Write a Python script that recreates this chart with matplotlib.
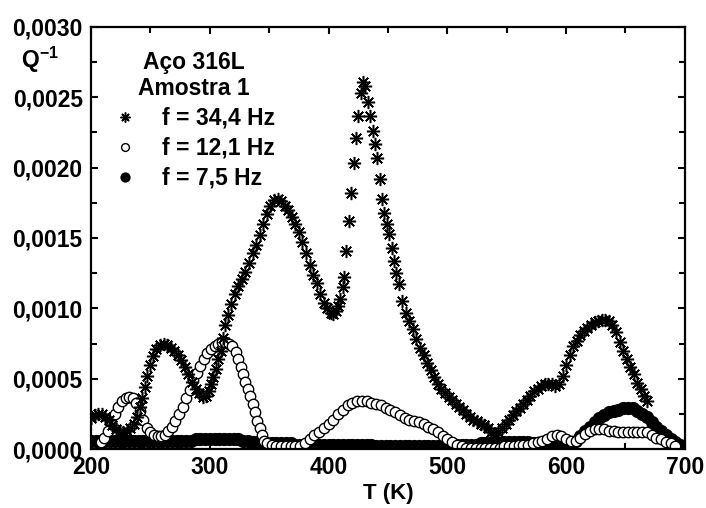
import numpy as np
import matplotlib
matplotlib.use('Agg')
import matplotlib.pyplot as plt
from matplotlib.ticker import MultipleLocator, FuncFormatter

plt.rcParams['font.family'] = ['Liberation Sans', 'DejaVu Sans']
plt.rcParams['font.weight'] = 'bold'
plt.rcParams['mathtext.fontset'] = 'custom'
plt.rcParams['mathtext.bf'] = 'Liberation Sans:bold'
plt.rcParams['mathtext.rm'] = 'Liberation Sans:bold'

# f = 34,4 Hz (asterisks)
t1 = [200, 203, 206, 209, 212, 215, 218, 221, 224, 227, 230, 233, 236, 239, 241, 243, 245, 247,
      249.5, 252, 255, 258, 261, 264, 267, 270, 273, 276, 279, 282, 285, 288, 291, 294, 297, 299,
      301, 303, 305, 307, 309, 311, 313, 315, 318, 321, 324, 327, 330, 333, 336, 339, 342, 345,
      348, 351, 354, 357, 360, 363, 366, 369, 372, 375, 378, 381, 384, 387, 390, 393, 396, 399,
      402, 404, 406, 408, 410, 412, 413, 414.5, 417, 419, 421, 423, 425, 427, 429, 431, 433, 435,
      437, 439, 441, 443, 445, 447, 449, 451, 453, 455, 457, 459, 462, 465, 468, 471, 474, 477,
      480, 483, 486, 489, 492, 495, 498, 501, 504, 507, 510, 513, 516, 519, 522, 525, 528, 531,
      534, 537, 540, 543, 546, 549, 552, 555, 558, 561, 564, 567, 570, 573, 576, 579, 582, 585,
      588, 591, 594, 597, 600, 603, 606, 609, 612, 615, 618, 621, 624, 627, 630, 633, 636, 639,
      642, 645, 648, 651, 654, 657, 660, 663, 666, 668]
q1 = [0.00022, 0.00024, 0.00025, 0.00025, 0.00023, 0.00021, 0.00017, 0.00014, 0.00012, 0.00012,
      0.00013, 0.00015, 0.00018, 0.00023, 0.00030, 0.00036, 0.00044, 0.00052, 0.00060, 0.00066,
      0.00071, 0.00074, 0.00075, 0.00074, 0.00072, 0.00070, 0.00067, 0.00063, 0.00058, 0.00053,
      0.00048, 0.00043, 0.00040, 0.00037, 0.00038, 0.00041, 0.00046, 0.00051, 0.00057, 0.00064,
      0.00070, 0.00079, 0.00088, 0.00095, 0.00103, 0.00110, 0.00116, 0.00121, 0.00126, 0.00132,
      0.00139, 0.00145, 0.00152, 0.00160, 0.00167, 0.00173, 0.00177, 0.00178, 0.00176, 0.00173,
      0.00170, 0.00165, 0.00160, 0.00154, 0.00147, 0.00139, 0.00131, 0.00124, 0.00118, 0.00110,
      0.00104, 0.00100, 0.00097, 0.00096, 0.00098, 0.00102, 0.00107, 0.00115, 0.00122, 0.00141,
      0.00162, 0.00182, 0.00203, 0.00221, 0.00237, 0.00253, 0.00261, 0.00258, 0.00247, 0.00237,
      0.00226, 0.00217, 0.00207, 0.00192, 0.00178, 0.00168, 0.00160, 0.00153, 0.00143, 0.00134,
      0.00125, 0.00117, 0.00105, 0.00097, 0.00091, 0.00085, 0.00078, 0.00072, 0.00067, 0.00061,
      0.00056, 0.00051, 0.00046, 0.00043, 0.00040, 0.00037, 0.00035, 0.00032, 0.00030, 0.00028,
      0.00025, 0.00023, 0.00021, 0.00020, 0.00018, 0.00017, 0.00015, 0.00012, 0.00010, 0.00012,
      0.00015, 0.00018, 0.00021, 0.00024, 0.00027, 0.00029, 0.00032, 0.00035, 0.00038, 0.00041,
      0.00043, 0.00045, 0.00046, 0.00046, 0.00046, 0.00045, 0.00046, 0.00052, 0.00060, 0.00067,
      0.00073, 0.00077, 0.00081, 0.00084, 0.00086, 0.00088, 0.00090, 0.00091, 0.00092, 0.00092,
      0.00091, 0.00088, 0.00083, 0.00076, 0.00070, 0.00064, 0.00058, 0.00053, 0.00047, 0.00043,
      0.00038, 0.00034]

# f = 12,1 Hz (open circles)
t2 = [208, 211, 214, 217, 220, 223, 226, 229, 232, 235, 238, 241, 244, 247, 250, 253, 256, 259,
      262, 265, 268, 271, 274, 277, 280, 283, 286, 289, 292, 295, 298, 301, 304, 307, 310, 313,
      316, 319, 322, 324, 326, 328, 330, 332, 334, 336, 338, 340, 342, 344, 346, 348, 352, 356,
      360, 364, 368, 372, 376, 380, 384, 388, 392, 396, 400, 404, 408, 412, 416, 420, 424, 428,
      432, 436, 440, 444, 448, 452, 456, 460, 464, 468, 472, 476, 480, 484, 488, 492, 496, 500,
      504, 508, 512, 516, 520, 524, 528, 532, 536, 540, 544, 548, 552, 556, 560, 564, 568, 572,
      576, 580, 584, 588, 592, 596, 600, 604, 608, 612, 616, 620, 624, 628, 632, 636, 640, 644,
      648, 652, 656, 660, 664, 668, 672, 676, 680, 684, 688, 692]
q2 = [0.00005, 0.00008, 0.00013, 0.00019, 0.00025, 0.00030, 0.00034, 0.00036, 0.00037, 0.00036,
      0.00033, 0.00027, 0.00021, 0.00015, 0.00012, 0.00010, 0.00009, 0.00009, 0.00010, 0.00013,
      0.00016, 0.00020, 0.00025, 0.00030, 0.00036, 0.00042, 0.00049, 0.00054, 0.00059, 0.00064,
      0.00068, 0.00071, 0.00073, 0.00075, 0.00076, 0.00076, 0.00075, 0.00073, 0.00069, 0.00064,
      0.00058, 0.00053, 0.00048, 0.00043, 0.00038, 0.00032, 0.00026, 0.00020, 0.00015, 0.00010,
      0.00006, 0.00004, 0.00003, 0.00002, 0.00002, 0.00002, 0.00002, 0.00002, 0.00002, 0.00004,
      0.00007, 0.00010, 0.00012, 0.00015, 0.00018, 0.00021, 0.00025, 0.00028, 0.00031, 0.00033,
      0.00034, 0.00034, 0.00034, 0.00033, 0.00032, 0.00031, 0.00029, 0.00028, 0.00026, 0.00024,
      0.00022, 0.00021, 0.00020, 0.00019, 0.00018, 0.00016, 0.00014, 0.00012, 0.00009, 0.00007,
      0.00005, 0.00003, 0.00002, 0.00001, 0.00001, 0.00001, 0.00001, 0.00001, 0.00001, 0.00001,
      0.00001, 0.00002, 0.00002, 0.00002, 0.00003, 0.00003, 0.00003, 0.00004, 0.00005, 0.00006,
      0.00007, 0.00009, 0.00010, 0.00009, 0.00007, 0.00006, 0.00006, 0.00008, 0.00011, 0.00013,
      0.00014, 0.00014, 0.00014, 0.00013, 0.00013, 0.00012, 0.00012, 0.00012, 0.00012, 0.00012,
      0.00012, 0.00012, 0.00010, 0.00008, 0.00007, 0.00005, 0.00004, 0.00002]

# f = 7,5 Hz (filled circles)
t3 = [200, 204, 208, 212, 216, 220, 224, 228, 232, 236, 240, 244, 248, 252, 256, 260, 264, 268,
      272, 276, 280, 284, 288, 292, 296, 300, 304, 308, 312, 316, 320, 324, 328, 332, 336, 340,
      344, 348, 352, 356, 360, 364, 368, 372, 376, 380, 384, 388, 392, 396, 400, 404, 408, 412,
      416, 420, 424, 428, 432, 436, 440, 444, 448, 452, 456, 460, 464, 468, 472, 476, 480, 484,
      488, 492, 496, 500, 504, 508, 512, 516, 520, 524, 528, 532, 536, 540, 544, 548, 552, 556,
      560, 564, 568, 572, 576, 580, 584, 588, 592, 596, 600, 604, 608, 612, 616, 620, 624, 628,
      632, 636, 640, 644, 648, 652, 656, 660, 664, 668, 672, 676, 680, 684, 688, 692, 696, 700]
q3 = [0.00006, 0.00006, 0.00006, 0.00006, 0.00006, 0.00006, 0.00006, 0.00006, 0.00006, 0.00006,
      0.00006, 0.00006, 0.00006, 0.00006, 0.00006, 0.00006, 0.00006, 0.00006, 0.00006, 0.00006,
      0.00006, 0.00006, 0.00007, 0.00007, 0.00007, 0.00007, 0.00007, 0.00007, 0.00007, 0.00007,
      0.00007, 0.00007, 0.00006, 0.00006, 0.00005, 0.00005, 0.00004, 0.00004, 0.00004, 0.00004,
      0.00004, 0.00004, 0.00004, 0.00003, 0.00003, 0.00003, 0.00003, 0.00003, 0.00003, 0.00003,
      0.00003, 0.00003, 0.00003, 0.00003, 0.00003, 0.00003, 0.00003, 0.00003, 0.00003, 0.00003,
      0.00002, 0.00002, 0.00002, 0.00002, 0.00002, 0.00002, 0.00002, 0.00002, 0.00002, 0.00002,
      0.00002, 0.00002, 0.00002, 0.00002, 0.00003, 0.00003, 0.00003, 0.00003, 0.00003, 0.00003,
      0.00003, 0.00003, 0.00004, 0.00004, 0.00004, 0.00004, 0.00004, 0.00005, 0.00005, 0.00005,
      0.00005, 0.00005, 0.00005, 0.00004, 0.00004, 0.00004, 0.00004, 0.00004, 0.00004, 0.00004,
      0.00004, 0.00005, 0.00006, 0.00009, 0.00013, 0.00016, 0.00019, 0.00022, 0.00024, 0.00026,
      0.00027, 0.00028, 0.00029, 0.00029, 0.00029, 0.00027, 0.00025, 0.00023, 0.00019, 0.00016,
      0.00013, 0.00010, 0.00007, 0.00005, 0.00003, 0.00001]

labels = ['f = 34,4 Hz', 'f = 12,1 Hz', 'f = 7,5 Hz']

fig = plt.figure(figsize=(7.06, 5.08), dpi=100)
ax = fig.add_axes([0.129, 0.116, 0.841, 0.831])

ax.plot(t3, q3, 'o', color='black', ms=8.5, mec='black', zorder=1, label=labels[2])
ax.plot(t2, q2, 'o', mfc='white', mec='black', ms=7.5, mew=1.0, zorder=2, label=labels[1])
ax.plot(t1, q1, marker=(8, 2, 0), ls='none', color='black', ms=9.5, mew=1.1, zorder=3, label=labels[0])

ax.set_xlim(200, 700)
ax.set_ylim(0, 0.0030)
ax.xaxis.set_major_locator(MultipleLocator(100))
ax.xaxis.set_minor_locator(MultipleLocator(50))
ax.yaxis.set_major_locator(MultipleLocator(0.0005))
ax.yaxis.set_minor_locator(MultipleLocator(0.00025))
ax.yaxis.set_major_formatter(FuncFormatter(lambda v, p: ('%.4f' % v).replace('.', ',')))
ax.tick_params(which='both', direction='in', top=True, right=True, width=1.5, labelsize=16.5, pad=6)
ax.tick_params(axis='x', pad=5)
ax.tick_params(which='major', length=5)
ax.tick_params(which='minor', length=4)
for s in ax.spines.values():
    s.set_linewidth(1.6)

ax.set_xlabel('T (K)', fontsize=16, fontweight='bold', labelpad=3)
fig.text(0.030, 0.867, r'$\mathbf{Q^{-1}}$', fontsize=16.5)

h, l = ax.get_legend_handles_labels()
leg = ax.legend(h[::-1], l[::-1], loc='upper left', bbox_to_anchor=(0.0, 0.993), frameon=False,
                title='Aço 316L\nAmostra 1', fontsize=16.5, title_fontsize=16.5,
                handletextpad=1.0, labelspacing=0.3, markerscale=0.75, handlelength=1.2)
leg.get_title().set_fontweight('bold')
leg.get_title().set_multialignment('center')
leg.get_title().set_linespacing(1.2)

fig.savefig('out.png', dpi=100)
